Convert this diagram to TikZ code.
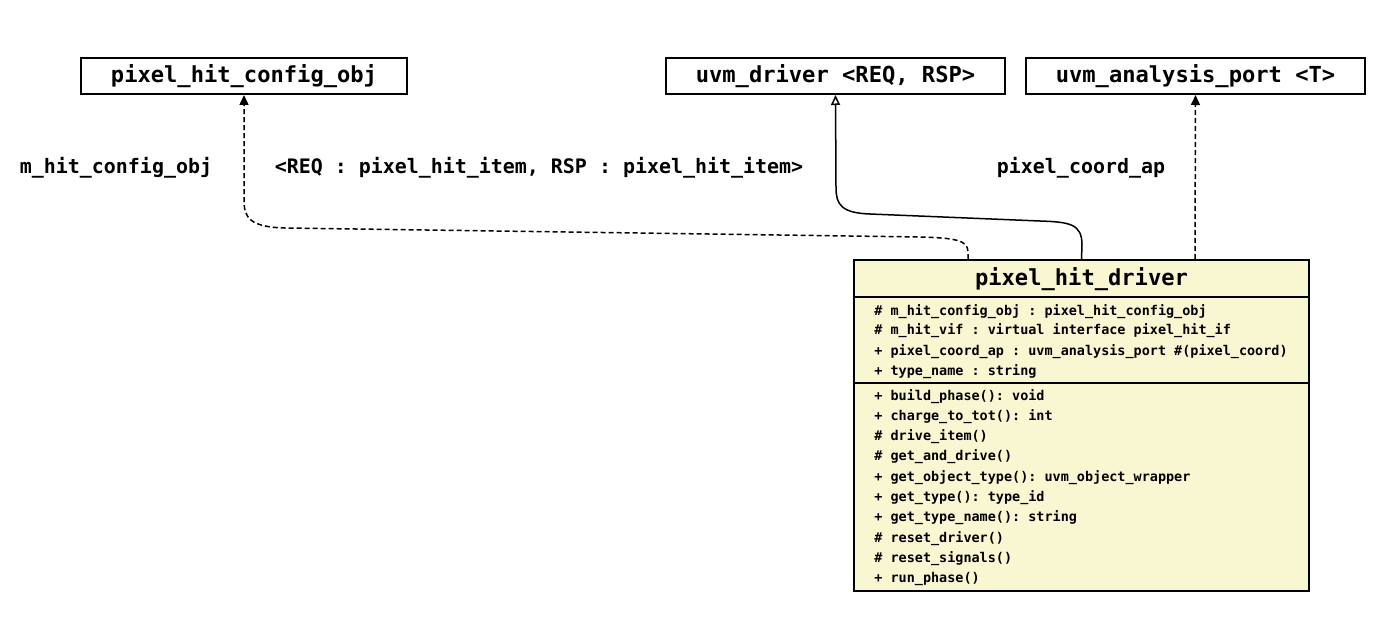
\documentclass[tikz,border=0pt]{standalone}
\usepackage{fontspec}
\setmonofont{DejaVu Sans Mono}
\usetikzlibrary{arrows.meta}
\definecolor{classfill}{HTML}{F9F7D2}
\begin{document}
\begin{tikzpicture}[x=0.5pt,y=-0.5pt,
  box/.style={draw, line width=1pt, inner sep=0pt, minimum height=18pt,
    text height=9.5pt, text depth=2.5pt,
    font=\ttfamily\bfseries\fontsize{11.05}{13}\selectfont},
  cls/.style={draw, line width=1pt, fill=classfill, inner sep=0pt,
    minimum width=227.5pt, minimum height=165.5pt},
  ttl/.style={inner sep=0pt, anchor=base, font=\ttfamily\bfseries\fontsize{11.05}{13}\selectfont},
  row/.style={inner sep=0pt, anchor=base west, font=\ttfamily\bfseries\fontsize{6.73}{8}\selectfont},
  lbl/.style={inner sep=0pt, anchor=base, font=\ttfamily\bfseries\fontsize{9.97}{12}\selectfont},
  dep/.style={line width=0.75pt, dash pattern=on 2.5pt off 1.5pt, -{Triangle[length=5pt,width=4.5pt]}},
  inh/.style={line width=0.75pt, -{Triangle[open,length=5pt,width=4.5pt,fill=white]}}]
\useasboundingbox (0,0) rectangle (1376,642);

\node[box, minimum width=163pt] (cfg) at (244,76) {pixel\_hit\_config\_obj};
\node[box, minimum width=169.5pt] (udrv) at (835.5,76) {uvm\_driver <REQ, RSP>};
\node[box, minimum width=169.5pt] (uap) at (1195.5,76) {uvm\_analysis\_port <T>};

\node[cls] (drv) at (1081.5,425.5) {};
\node[ttl] (drvt) at (1081.5,285) {pixel\_hit\_driver};
\draw[line width=1pt] (854,297) -- (1309,297);
\draw[line width=1pt] (854,383) -- (1309,383);

\node[row] (a1) at (874,315) {\# m\_hit\_config\_obj : pixel\_hit\_config\_obj};
\node[row] (a2) at (874,334.5) {\# m\_hit\_vif : virtual interface pixel\_hit\_if};
\node[row] (a3) at (874,355) {+ pixel\_coord\_ap : uvm\_analysis\_port \#(pixel\_coord)};
\node[row] (a4) at (874,375) {+ type\_name : string};

\node[row] (m1) at (874,400) {+ build\_phase(): void};
\node[row] (m2) at (874,420.3) {+ charge\_to\_tot(): int};
\node[row] (m3) at (874,440.6) {\# drive\_item()};
\node[row] (m4) at (874,460.9) {\# get\_and\_drive()};
\node[row] (m5) at (874,481.2) {+ get\_object\_type(): uvm\_object\_wrapper};
\node[row] (m6) at (874,501.5) {+ get\_type(): type\_id};
\node[row] (m7) at (874,521.8) {+ get\_type\_name(): string};
\node[row] (m8) at (874,542.1) {\# reset\_driver()};
\node[row] (m9) at (874,562.4) {\# reset\_signals()};
\node[row] (m10) at (874,582.7) {+ run\_phase()};

\node[lbl] (l1) at (116,174) {m\_hit\_config\_obj};
\node[lbl] (l2) at (539,174) {<REQ : pixel\_hit\_item, RSP : pixel\_hit\_item>};
\node[lbl] (l3) at (1081,174) {pixel\_coord\_ap};

\draw[dep] ([xshift=-56.75pt]drv.north) -- (968,252)
  .. controls (968,240) and (955,238) .. (920,237)
  -- (285,228)
  .. controls (250,227) and (244,218) .. (244,200)
  -- (cfg.south);
\draw[inh] (drv.north) -- (1082,245)
  .. controls (1082,224) and (1070,222) .. (1040,221)
  -- (870,214)
  .. controls (842,213) and (836,205) .. (836,188)
  -- (udrv.south);
\draw[dep] ([xshift=56.75pt]drv.north) -- (uap.south);
\end{tikzpicture}
\end{document}
